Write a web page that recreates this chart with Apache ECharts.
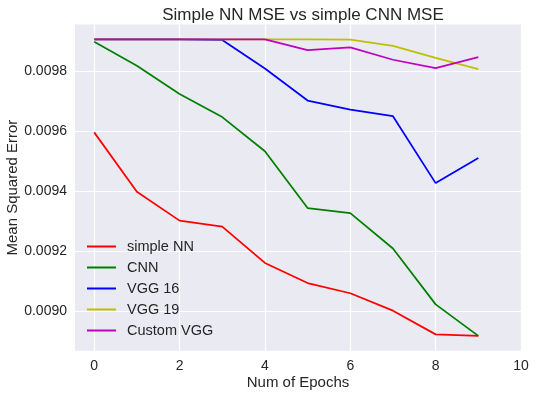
<!DOCTYPE html>
<html>
<head>
<meta charset="utf-8">
<script src="https://cdn.jsdelivr.net/npm/echarts@6/dist/echarts.min.js"></script>
<style>
  html, body { margin: 0; padding: 0; background: #fff; }
  #main { width: 536px; height: 397px; }
</style>
</head>
<body>
<div id="main"></div>
<script>
var epochs = [0, 1, 2, 3, 4, 5, 6, 7, 8, 9];
var simpleNN = [0.009595, 0.009397, 0.009301, 0.009281, 0.009160, 0.009093, 0.009059, 0.009001, 0.008922, 0.008917];
var cnn = [0.009897, 0.009817, 0.009723, 0.009646, 0.009532, 0.009343, 0.009326, 0.009208, 0.009022, 0.008917];
var vgg16 = [0.009905, 0.009905, 0.009905, 0.009903, 0.009808, 0.009701, 0.009671, 0.009649, 0.009426, 0.009510];
var vgg19 = [0.009905, 0.009905, 0.009905, 0.009905, 0.009905, 0.009905, 0.009904, 0.009883, 0.009843, 0.009806];
var customVGG = [0.009905, 0.009905, 0.009905, 0.009905, 0.009905, 0.009869, 0.009878, 0.009837, 0.009809, 0.009846];
var xTicks = [0, 2, 4, 6, 8, 10];
var yTicks = [0.0090, 0.0092, 0.0094, 0.0096, 0.0098];

var seriesDefs = [
    { name: 'simple NN', data: simpleNN, color: '#ff0000' },
    { name: 'CNN', data: cnn, color: '#008000' },
    { name: 'VGG 16', data: vgg16, color: '#0000ff' },
    { name: 'VGG 19', data: vgg19, color: '#bfbf00' },
    { name: 'Custom VGG', data: customVGG, color: '#bf00bf' }
];

var font = 'Liberation Sans, Arial, sans-serif';
var myChart = echarts.init(document.getElementById('main'));

var option = {
    animation: false,
    textStyle: { fontFamily: font },
    title: {
        text: 'Simple NN MSE vs simple CNN MSE',
        left: 298,
        textAlign: 'center',
        top: 2,
        textStyle: { fontSize: 17, fontWeight: 'normal', color: '#262626', fontFamily: font }
    },
    grid: {
        left: 75, right: 15, top: 24.5, bottom: 46.3,
        containLabel: false,
        outerBoundsMode: 'none',
        show: true, backgroundColor: '#eaeaf2', borderWidth: 0
    },
    legend: {
        orient: 'vertical',
        left: 82,
        top: 234,
        icon: 'rect',
        itemWidth: 29,
        itemHeight: 2,
        itemGap: 6,
        textStyle: { fontSize: 14.5, color: '#262626', fontFamily: font, padding: [0, 0, 0, 6] },
        data: seriesDefs.map(function (s) { return s.name; })
    },
    xAxis: {
        type: 'value',
        min: -0.45,
        max: 10,
        name: 'Num of Epochs',
        nameLocation: 'middle',
        nameGap: 25,
        nameMoveOverlap: false,
        nameTextStyle: { fontSize: 15, color: '#262626' },
        axisLine: { show: false },
        axisTick: { show: false, customValues: xTicks },
        axisLabel: { customValues: xTicks, fontSize: 14, color: '#262626', margin: 8 },
        splitLine: { show: true, lineStyle: { color: '#ffffff', width: 1.2 } }
    },
    yAxis: {
        type: 'value',
        min: 0.0088676,
        max: 0.0099544,
        name: 'Mean Squared Error',
        nameLocation: 'middle',
        nameGap: 55,
        nameMoveOverlap: false,
        nameTextStyle: { fontSize: 15, color: '#262626' },
        axisLine: { show: false },
        axisTick: { show: false, customValues: yTicks },
        axisLabel: {
            customValues: yTicks, fontSize: 14, color: '#262626', margin: 8,
            formatter: function (v) { return v.toFixed(4); }
        },
        splitLine: { show: true, lineStyle: { color: '#ffffff', width: 1.2 } }
    },
    series: seriesDefs.map(function (s) {
        return {
            name: s.name,
            type: 'line',
            data: s.data.map(function (v, i) { return [epochs[i], v]; }),
            showSymbol: false,
            symbol: 'none',
            color: s.color,
            lineStyle: { color: s.color, width: 1.75 }
        };
    })
};

myChart.setOption(option);
</script>
</body>
</html>
